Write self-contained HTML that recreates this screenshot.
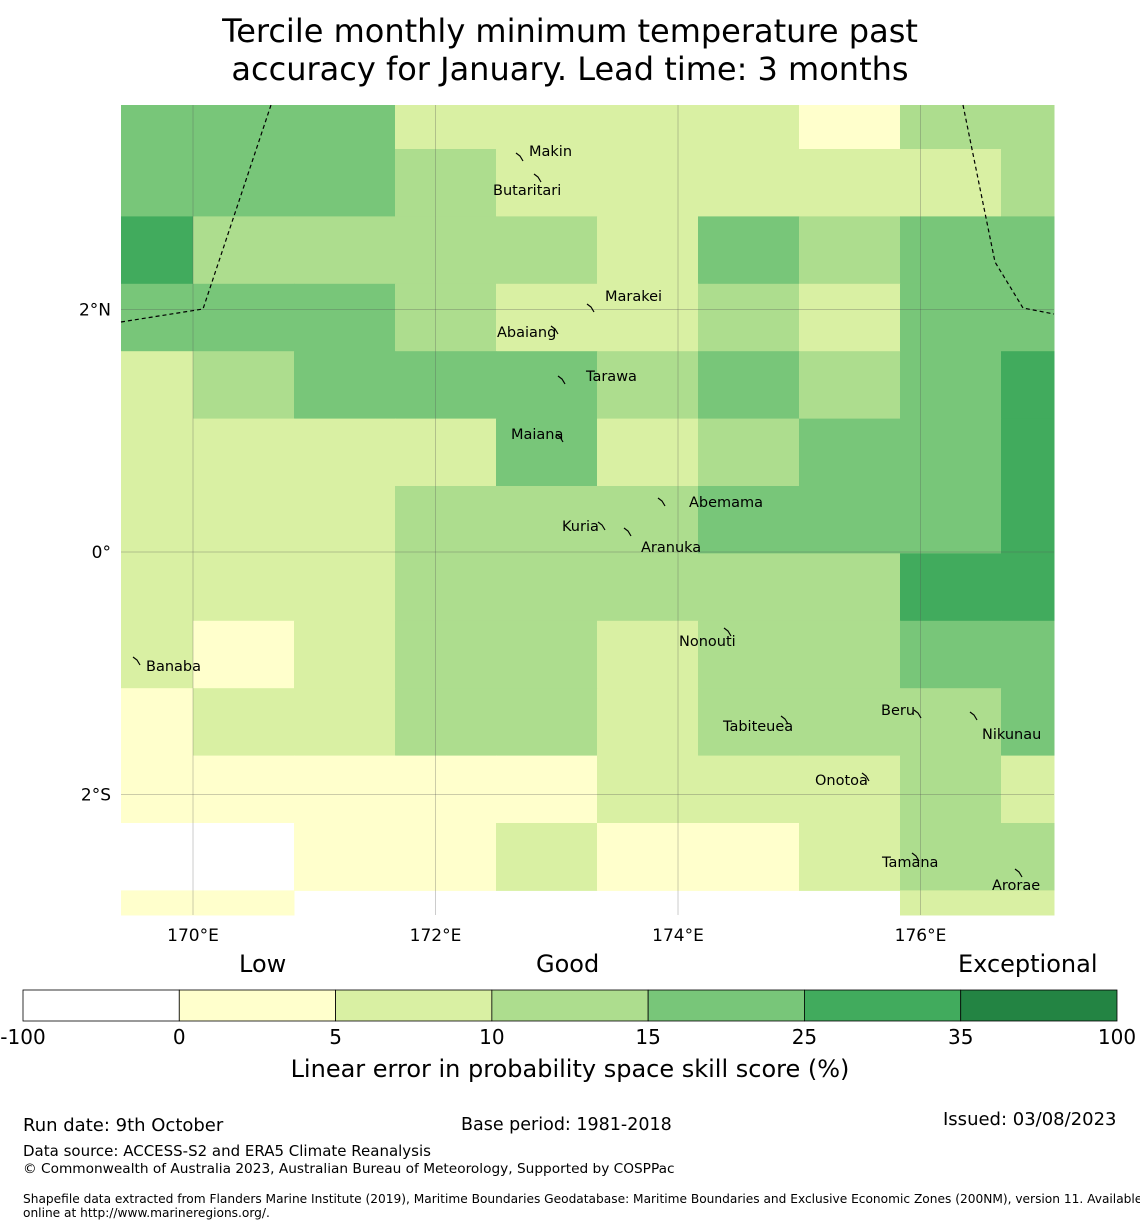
<!DOCTYPE html>
<html><head><meta charset="utf-8"><style>
body{margin:0;background:#fff;font-family:"DejaVu Sans","Liberation Sans",sans-serif;}
.t{position:absolute;white-space:nowrap;color:#000}
</style></head><body>
<div style="position:relative;width:1140px;height:1230px;overflow:hidden">
<div class="t" style="left:0;width:1140px;text-align:center;top:12px;font-size:32px;line-height:38px">Tercile monthly minimum temperature past<br>accuracy for January. Lead time: 3 months</div>
<svg id="map" width="1140" height="1230" style="position:absolute;left:0;top:0"></svg>
<div class="t" style="left:239px;top:950px;font-size:24px">Low</div>
<div class="t" style="left:536px;top:950px;font-size:24px">Good</div>
<div class="t" style="left:958px;top:950px;font-size:24px">Exceptional</div>
<div class="t" style="left:0;width:1140px;text-align:center;top:1055px;font-size:24px">Linear error in probability space skill score (%)</div>
<div class="t" style="left:23px;top:1115px;font-size:18px">Run date: 9th October</div>
<div class="t" style="left:461px;top:1115px;font-size:17.5px">Base period: 1981-2018</div>
<div class="t" style="left:943px;top:1109px;font-size:18px">Issued: 03/08/2023</div>
<div class="t" style="left:23px;top:1142px;font-size:15px">Data source: ACCESS-S2 and ERA5 Climate Reanalysis</div>
<div class="t" style="left:23px;top:1161px;font-size:13.7px">© Commonwealth of Australia 2023, Australian Bureau of Meteorology, Supported by COSPPac</div>
<div class="t" style="left:23px;top:1192px;font-size:12.2px;line-height:14px">Shapefile data extracted from Flanders Marine Institute (2019), Maritime Boundaries Geodatabase: Maritime Boundaries and Exclusive Economic Zones (200NM), version 11. Available<br>online at http://www.marineregions.org/.</div>
</div>
<script>
// grid values (skill score %), rows top->bottom, cols left->right
const row0=[20,20,20,7.5,7.5,7.5,7.5,2.5,12.5,12.5];
const row1=[20,20,20,12.5,7.5,7.5,7.5,7.5,7.5,12.5];
const row2=[30,12.5,12.5,12.5,12.5,7.5,20,12.5,20,20];
const row3=[20,20,20,12.5,7.5,7.5,12.5,7.5,20,20];
const row4=[7.5,12.5,20,20,20,12.5,20,12.5,20,30];
const row5=[7.5,7.5,7.5,7.5,20,7.5,12.5,20,20,30];
const row6=[7.5,7.5,7.5,12.5,12.5,12.5,20,20,20,30];
const row7=[7.5,7.5,7.5,12.5,12.5,12.5,12.5,12.5,30,30];
const row8=[7.5,2.5,7.5,12.5,12.5,7.5,12.5,12.5,20,20];
const row9=[2.5,7.5,7.5,12.5,12.5,7.5,12.5,12.5,12.5,20];
const row10=[2.5,2.5,2.5,2.5,2.5,7.5,7.5,7.5,12.5,7.5];
const row11=[-10,-10,2.5,2.5,7.5,2.5,2.5,7.5,12.5,12.5];
const row12=[2.5,2.5,null,null,null,null,null,null,7.5,7.5];
const rows=[row0,row1,row2,row3,row4,row5,row6,row7,row8,row9,row10,row11,row12];
const lonTicks=[170,172,174,176];
const latTicks=[2,0,-2];
const binEdges=[-100,0,5,10,15,25,35,100];
const binColors=["#ffffff","#ffffcc","#d9f0a3","#addd8e","#78c679","#41ab5d","#238443"];

const NS="http://www.w3.org/2000/svg";
const svg=document.getElementById('map');
const X0=121,X1=1054,Y0=105,Y1=915;
const lonX=l=>193+(l-170)*121.25;
const latY=l=>552-l*121.25;
const cw=101, rh=67.4, ry0=149-rh;
function mk(t,a){const e=document.createElementNS(NS,t);for(const k in a)e.setAttribute(k,a[k]);svg.appendChild(e);return e;}
function color(v){for(let i=0;i<binColors.length;i++)if(v<binEdges[i+1])return binColors[i];return binColors[6];}
const colEdges=[X0];for(let i=1;i<10;i++)colEdges.push(193+(i-1)*cw);colEdges.push(X1);
const rowEdges=[Y0];for(let j=1;j<13;j++)rowEdges.push(ry0+j*rh);rowEdges.push(Y1);
rows.forEach((r,j)=>r.forEach((v,i)=>{if(v===null)return;
 const e=mk('rect',{x:colEdges[i],y:rowEdges[j],width:colEdges[i+1]-colEdges[i]+0.5,height:rowEdges[j+1]-rowEdges[j]+0.5,fill:color(v)});
 
 }));
lonTicks.forEach(l=>{const x=lonX(l);
 const g=mk('line',{x1:x,x2:x,y1:Y0,y2:Y1,stroke:'#555','stroke-width':0.5,'stroke-opacity':0.6});
 
 const t=mk('text',{x:x,y:941,'font-size':17,'text-anchor':'middle','font-family':'DejaVu Sans, Liberation Sans, sans-serif'});t.textContent=l+'°E';
 });
latTicks.forEach(l=>{const y=latY(l);
 const g=mk('line',{x1:X0,x2:X1,y1:y,y2:y,stroke:'#555','stroke-width':0.5,'stroke-opacity':0.6});
 
 const t=mk('text',{x:111,y:y+6,'font-size':17,'text-anchor':'end','font-family':'DejaVu Sans, Liberation Sans, sans-serif'});t.textContent=l===0?'0°':Math.abs(l)+'°'+(l>0?'N':'S');
 });
[["121,322 203,309 271,105"],["963,105 995,262 1023,308 1054,314"]].forEach(p=>{const e=mk('polyline',{points:p[0],fill:'none',stroke:'#000','stroke-width':1.2,'stroke-dasharray':'4,3'});
 });
const islands=[["Makin",529,156,520,157],["Butaritari",493,195,538,178],["Marakei",605,301,591,308],["Abaiang",497,337,555,330],["Tarawa",586,381,562,380],["Maiana",511,439,560,438],["Abemama",689,507,662,502],["Kuria",562,531,602,526],["Aranuka",641,552,628,532],["Nonouti",679,646,728,632],["Banaba",146,671,137,661],["Tabiteuea",723,731,785,720],["Beru",881,715,918,714],["Nikunau",982,739,974,716],["Onotoa",815,785,866,777],["Tamana",882,867,916,857],["Arorae",992,890,1019,873]];
islands.forEach(a=>{const d=mk('path',{d:`M${a[3]-4},${a[4]-4} l4,3 l3,5`,fill:'none',stroke:'#000','stroke-width':1.2});
 
 const t=mk('text',{x:a[1],y:a[2],'font-size':14.5,'font-family':'DejaVu Sans, Liberation Sans, sans-serif'});t.textContent=a[0];
 });
// colorbar
const cbX=23,cbW=1094,seg=cbW/7;
binColors.forEach((c,i)=>{const e=mk('rect',{x:cbX+i*seg,y:990,width:seg,height:31,fill:c,stroke:'#000','stroke-width':0.8});
 });
binEdges.forEach((v,i)=>{const t=mk('text',{x:cbX+i*seg,y:1044,'font-size':20,'text-anchor':'middle','font-family':'DejaVu Sans, Liberation Sans, sans-serif'});t.textContent=v;
 });
</script>
</body></html>
